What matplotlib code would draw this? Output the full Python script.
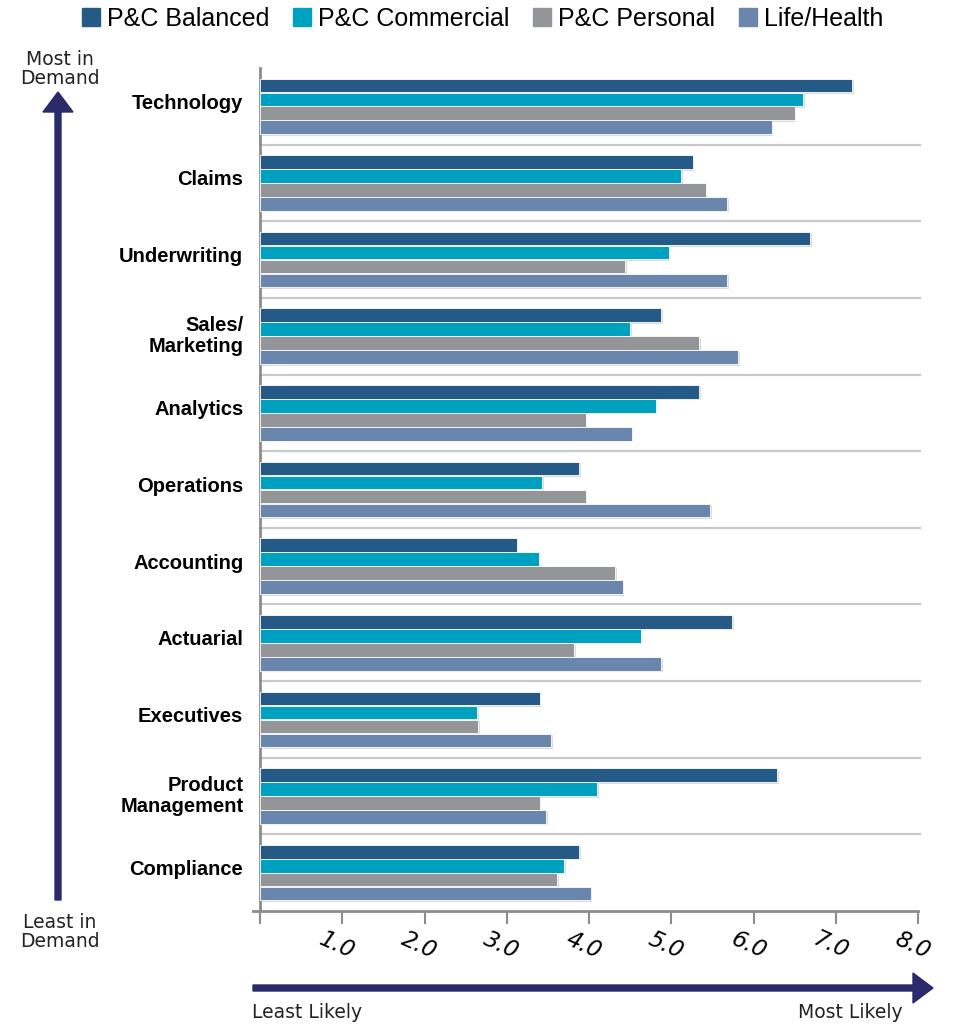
import matplotlib
matplotlib.use("Agg")
import matplotlib.pyplot as plt
import matplotlib.patheffects as pe
import matplotlib.transforms as mtrans
from matplotlib.patches import FancyArrow
from matplotlib.lines import Line2D
import numpy as np

categories = ["Technology", "Claims", "Underwriting", "Sales/\nMarketing", "Analytics",
              "Operations", "Accounting", "Actuarial", "Executives",
              "Product\nManagement", "Compliance"]
series_names = ["P&C Balanced", "P&C Commercial", "P&C Personal", "Life/Health"]
pc_balanced = [7.20, 5.26, 6.69, 4.88, 5.34, 3.88, 3.12, 5.74, 3.40, 6.29, 3.88]
pc_commercial = [6.60, 5.12, 4.97, 4.50, 4.81, 3.43, 3.39, 4.63, 2.64, 4.10, 3.70]
pc_personal = [6.50, 5.42, 4.44, 5.34, 3.96, 3.96, 4.32, 3.82, 2.65, 3.40, 3.61]
life_health = [6.22, 5.68, 5.68, 5.81, 4.52, 5.47, 4.41, 4.88, 3.54, 3.48, 4.02]
xticks = [1.0, 2.0, 3.0, 4.0, 5.0, 6.0, 7.0, 8.0]

colors = ["#255a87", "#00a0c1", "#949598", "#6a86ac"]
series = [pc_balanced, pc_commercial, pc_personal, life_health]

W, H = 957, 1025
fig = plt.figure(figsize=(W / 100, H / 100), dpi=100)
fig.patch.set_facecolor("white")

left, right, top, bottom = 260, 918, 68, 911
ax = fig.add_axes([left / W, 1 - bottom / H, (right - left) / W, (bottom - top) / H])

n = len(categories)
bar_h = 0.178
step = 0.182
for i, (vals, col) in enumerate(zip(series, colors)):
    y = np.arange(n) + (i - 1.5) * step
    bars = ax.barh(y, vals, height=bar_h, color=col, edgecolor="white", linewidth=0.6,
                   label=series_names[i], zorder=3)
    for b in bars:
        b.set_path_effects([pe.SimplePatchShadow(offset=(1.2, -1.2), shadow_rgbFace="#9a9a9a",
                                                 alpha=0.35), pe.Normal()])

ax.set_ylim(n - 0.5, -0.5)
ax.set_xlim(0, 8)

# separators between categories
for k in range(1, n):
    ax.plot([0, 8.03], [k - 0.5, k - 0.5], color="#c9c9c9", lw=1.6, zorder=1, clip_on=False)

ax.set_yticks(np.arange(n))
ax.set_yticklabels(categories, fontsize=14.5, fontweight="bold", family="Liberation Sans",
                   multialignment="right", linespacing=1.15)
ax.tick_params(axis="y", length=0, pad=12)
for lbl in ax.get_yticklabels():
    dy = 0.03 if "\n" in lbl.get_text() else 0.05
    lbl.set_transform(lbl.get_transform() + mtrans.ScaledTranslation(0, dy, fig.dpi_scale_trans))

ax.set_xticks([0] + xticks)
ax.set_xticklabels([""] + [f"{t:.1f}" for t in xticks], fontsize=16.5, style="italic",
                   family="DejaVu Sans", rotation=-24, rotation_mode="anchor",
                   ha="left", va="top")
ax.tick_params(axis="x", length=9, width=1.5, color="#8c8c8c", pad=6, direction="out")
xoff = mtrans.ScaledTranslation(-0.17, 0.04, fig.dpi_scale_trans)
for lbl in ax.get_xticklabels():
    lbl.set_transform(lbl.get_transform() + xoff)

for s in ["top", "right"]:
    ax.spines[s].set_visible(False)
ax.spines["left"].set_color("#8c8c8c")
ax.spines["left"].set_linewidth(2)
ax.spines["bottom"].set_color("#8c8c8c")
ax.spines["bottom"].set_linewidth(2)
ax.spines["bottom"].set_bounds(-0.09, 8.0)
ax.patch.set_alpha(0)

# legend
handles = [Line2D([], [], marker="s", linestyle="none", markersize=13, color=c) for c in colors]
fig.legend(handles, series_names, loc="center", bbox_to_anchor=(482 / W, 1 - 19 / H),
           ncol=4, frameon=False, handletextpad=0.25, columnspacing=0.9, handlelength=0.8,
           prop={"family": ["Liberation Sans Narrow", "Liberation Sans"], "size": 18})

navy = "#2b2b6b"
# vertical demand arrow
fig.patches.append(FancyArrow(58 / W, 1 - 900 / H, 0, (900 - 92) / H, width=6 / W,
                              head_width=30 / W, head_length=20 / H,
                              length_includes_head=True, color=navy,
                              transform=fig.transFigure, figure=fig))
# horizontal likelihood arrow
fig.patches.append(FancyArrow(253 / W, 1 - 988 / H, (933 - 253) / W, 0, width=6 / H,
                              head_width=30 / H, head_length=20 / W,
                              length_includes_head=True, color=navy,
                              transform=fig.transFigure, figure=fig))

fig.text(60 / W, 1 - 69 / H, "Most in\nDemand", ha="center", va="center", fontsize=13.5,
         family="DejaVu Sans", linespacing=0.95, color="#222222")
fig.text(60 / W, 1 - 932 / H, "Least in\nDemand", ha="center", va="center", fontsize=13.5,
         family="DejaVu Sans", linespacing=0.95, color="#222222")
fig.text(252 / W, 1 - 1013 / H, "Least Likely", ha="left", va="center", fontsize=13.5,
         family="DejaVu Sans", color="#222222")
fig.text(903 / W, 1 - 1013 / H, "Most Likely", ha="right", va="center", fontsize=13.5,
         family="DejaVu Sans", color="#222222")

fig.savefig("out.png", dpi=100, facecolor="white")
